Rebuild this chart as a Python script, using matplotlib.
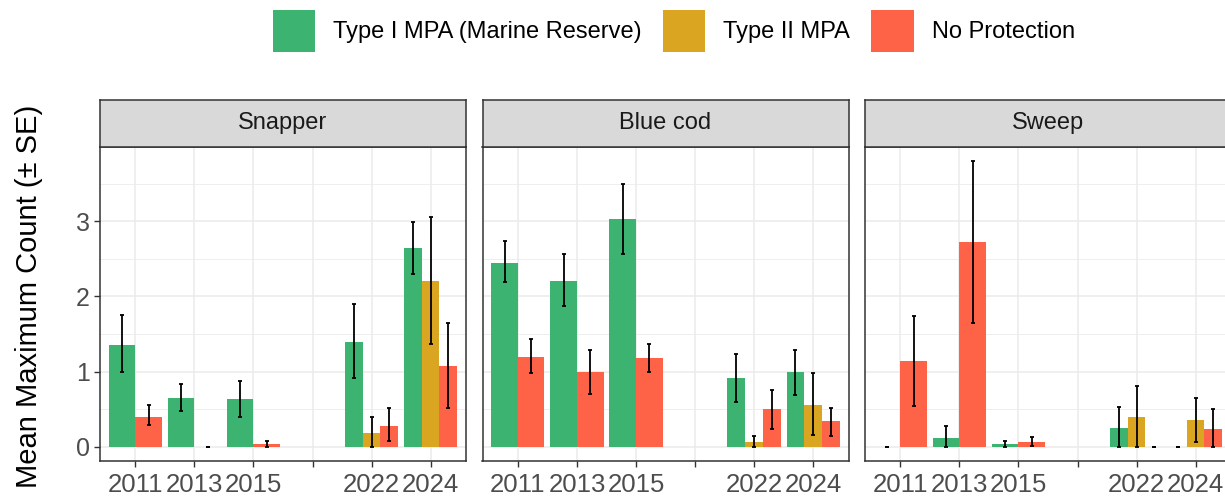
#!/usr/bin/env python3
"""
Mean maximum count (+/- SE) by protection type, faceted by species.

Output:
  out.png
"""
import numpy as np
import matplotlib
matplotlib.use("Agg")
import matplotlib.pyplot as plt
from matplotlib.patches import Patch

plt.rcParams["font.family"] = ["Liberation Sans", "DejaVu Sans"]

nan = np.nan

YEARS = ["2011", "2013", "2015", "", "2022", "2024"]
SPECIES = ["Snapper", "Blue cod", "Sweep"]
GROUPS = ["Type I MPA (Marine Reserve)", "Type II MPA", "No Protection"]
COLORS = ["#3CB371", "#DAA520", "#FF6347"]

# Snapper
snapper_type1_mean = [1.35, 0.655, 0.64, nan, 1.40, 2.65]
snapper_type1_lo = [0.99, 0.48, 0.39, nan, 0.91, 2.30]
snapper_type1_hi = [1.75, 0.83, 0.88, nan, 1.90, 2.99]
snapper_type2_mean = [nan, nan, nan, nan, 0.185, 2.20]
snapper_type2_lo = [nan, nan, nan, nan, 0.0, 1.37]
snapper_type2_hi = [nan, nan, nan, nan, 0.40, 3.06]
snapper_none_mean = [0.40, 0.0, 0.03, nan, 0.28, 1.08]
snapper_none_lo = [0.29, 0.0, 0.0, nan, 0.07, 0.52]
snapper_none_hi = [0.55, 0.0, 0.07, nan, 0.52, 1.65]

# Blue cod
bluecod_type1_mean = [2.45, 2.20, 3.03, nan, 0.91, 1.00]
bluecod_type1_lo = [2.19, 1.87, 2.56, nan, 0.60, 0.69]
bluecod_type1_hi = [2.74, 2.57, 3.50, nan, 1.24, 1.29]
bluecod_type2_mean = [nan, nan, nan, nan, 0.06, 0.56]
bluecod_type2_lo = [nan, nan, nan, nan, 0.0, 0.16]
bluecod_type2_hi = [nan, nan, nan, nan, 0.14, 0.98]
bluecod_none_mean = [1.20, 1.00, 1.18, nan, 0.50, 0.34]
bluecod_none_lo = [0.98, 0.70, 0.99, nan, 0.24, 0.14]
bluecod_none_hi = [1.43, 1.29, 1.37, nan, 0.75, 0.52]

# Sweep
sweep_type1_mean = [0.0, 0.12, 0.035, nan, 0.25, 0.0]
sweep_type1_lo = [0.0, 0.0, 0.0, nan, 0.0, 0.0]
sweep_type1_hi = [0.0, 0.27, 0.08, nan, 0.53, 0.0]
sweep_type2_mean = [nan, nan, nan, nan, 0.40, 0.35]
sweep_type2_lo = [nan, nan, nan, nan, 0.0, 0.06]
sweep_type2_hi = [nan, nan, nan, nan, 0.81, 0.65]
sweep_none_mean = [1.14, 2.72, 0.065, nan, 0.0, 0.24]
sweep_none_lo = [0.54, 1.65, 0.01, nan, 0.0, 0.0]
sweep_none_hi = [1.74, 3.80, 0.13, nan, 0.0, 0.50]

DATA = {
    "Snapper": [
        (snapper_type1_mean, snapper_type1_lo, snapper_type1_hi),
        (snapper_type2_mean, snapper_type2_lo, snapper_type2_hi),
        (snapper_none_mean, snapper_none_lo, snapper_none_hi),
    ],
    "Blue cod": [
        (bluecod_type1_mean, bluecod_type1_lo, bluecod_type1_hi),
        (bluecod_type2_mean, bluecod_type2_lo, bluecod_type2_hi),
        (bluecod_none_mean, bluecod_none_lo, bluecod_none_hi),
    ],
    "Sweep": [
        (sweep_type1_mean, sweep_type1_lo, sweep_type1_hi),
        (sweep_type2_mean, sweep_type2_lo, sweep_type2_hi),
        (sweep_none_mean, sweep_none_lo, sweep_none_hi),
    ],
}

W, H = 1225, 501
BORDER = "#333333"
GRID = "#EBEBEB"


def draw_panel(ax, species, show_y):
    series = DATA[species]
    ax.set_axisbelow(True)
    for i in range(len(YEARS)):
        present = [g for g in range(3) if not np.isnan(series[g][0][i])]
        if not present:
            continue
        w = 0.9 / len(present)
        for k, g in enumerate(present):
            mean, lo, hi = (s[i] for s in series[g])
            x = i - 0.45 + w * (k + 0.5)
            ax.bar(x, mean, width=w, color=COLORS[g], zorder=2, linewidth=0)
            ax.errorbar(x, mean, yerr=[[mean - lo], [hi - mean]], fmt="none",
                        ecolor="black", elinewidth=1.3, capsize=1.5,
                        capthick=1.3, zorder=3)

    ax.set_xlim(-0.6, len(YEARS) - 0.4)
    ax.set_ylim(-0.19, 3.99)
    ax.set_xticks(range(len(YEARS)))
    ax.set_xticklabels(YEARS)
    ax.set_yticks([0, 1, 2, 3])
    ax.set_yticks([0.5, 1.5, 2.5, 3.5], minor=True)
    ax.grid(True, which="major", color=GRID, linewidth=1.1)
    ax.grid(True, which="minor", axis="y", color=GRID, linewidth=0.6)
    ax.tick_params(axis="both", which="major", length=4.5, width=1.0,
                   color=BORDER, labelsize=18.5, labelcolor="#4D4D4D")
    ax.tick_params(axis="x", which="major", pad=4)
    ax.tick_params(axis="y", which="major", pad=3, labelsize=18)
    ax.tick_params(axis="y", which="minor", length=0)
    if not show_y:
        ax.tick_params(axis="y", which="both", left=False, labelleft=False)
    for sp in ax.spines.values():
        sp.set_color(BORDER)
        sp.set_linewidth(1.1)


def main():
    fig = plt.figure(figsize=(W / 100, H / 100), dpi=100)
    lefts = [100, 482.5, 865]
    pw = 366
    p_top, p_bot = 147, 461
    s_top = 99.5
    for j, species in enumerate(SPECIES):
        ax = fig.add_axes([lefts[j] / W, (H - p_bot) / H, pw / W, (p_bot - p_top) / H])
        draw_panel(ax, species, show_y=(j == 0))
        sx = fig.add_axes([lefts[j] / W, (H - p_top) / H, pw / W, (p_top - s_top) / H])
        sx.set_facecolor("#D9D9D9")
        sx.set_xticks([]); sx.set_yticks([])
        for sp in sx.spines.values():
            sp.set_color(BORDER)
            sp.set_linewidth(1.1)
        sx.text(0.5, 0.5, species, ha="center", va="center", fontsize=17,
                color="#1A1A1A", transform=sx.transAxes)

    fig.text(29 / W, 1 - 105 / H, "Mean Maximum Count (\u00b1 SE)", rotation=90,
             ha="center", va="top", fontsize=21, color="black")

    handles = [Patch(facecolor=c, edgecolor="none") for c in COLORS]
    fig.legend(handles, GROUPS, loc="center", bbox_to_anchor=(0.55, 1 - 31 / H),
               ncol=3, frameon=False, fontsize=17, handlelength=1.8,
               handleheight=2.4, handletextpad=0.75, columnspacing=0.9)

    fig.savefig("out.png", dpi=100)
    plt.close(fig)


if __name__ == "__main__":
    main()
